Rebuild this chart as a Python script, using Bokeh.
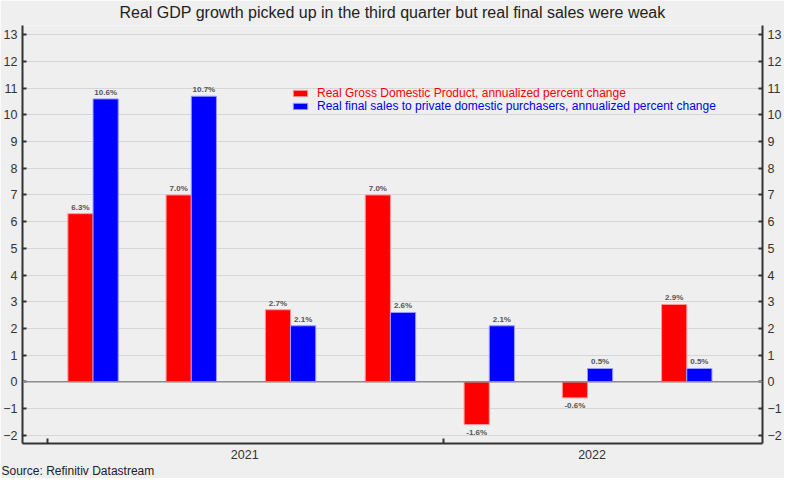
import pandas as pd
from bokeh.plotting import figure
from bokeh.models import (ColumnDataSource, Range1d, LinearAxis, FixedTicker, Span,
                          Legend, LegendItem, Title)
from bokeh.core.properties import value
from bokeh.embed import file_html
from bokeh.resources import INLINE

# ---------------- data ----------------
title_text = "Real GDP growth picked up in the third quarter but real final sales were weak"
source_text = "Source: Refinitiv Datastream"
quarters = ["2021Q1", "2021Q2", "2021Q3", "2021Q4", "2022Q1", "2022Q2", "2022Q3"]
gdp = [6.3, 7.0, 2.7, 7.0, -1.6, -0.6, 2.9]
final_sales = [10.6, 10.7, 2.1, 2.6, 2.1, 0.5, 0.5]
gdp_name = "Real Gross Domestic Product, annualized percent change"
sales_name = "Real final sales to private domestic purchasers, annualized percent change"
years = ["2021", "2022"]
y_ticks = list(range(-2, 14))

# ---------------- positions (days since start of first year) ----------------
origin = pd.Timestamp(years[0] + "-01-01")
periods = [pd.Period(q, freq="Q") for q in quarters]
starts = [(p.start_time - origin).days for p in periods]
lengths = [(p.end_time.normalize() - p.start_time).days + 1 for p in periods]
centers = [s + 0.47 * L for s, L in zip(starts, lengths)]
half = 11.6
bar_w = 23.2
red_x = [c - half for c in centers]
blue_x = [c + half for c in centers]

year_starts = [(pd.Timestamp(y + "-01-01") - origin).days for y in years]
data_end = starts[-1] + lengths[-1]
year_ends = [min((pd.Timestamp(str(int(y) + 1) + "-01-01") - origin).days, data_end) for y in years]
year_mid = [round((a + b) / 2) for a, b in zip(year_starts, year_ends)]

BG = "#efefef"
FONT = "Liberation Sans"
NARROW = "'Liberation Sans Narrow', 'Liberation Sans', Arial"

X0, X1 = -22.7, 659
Y0, Y1 = -2.31, 13.35

p = figure(width=784, height=478,
           x_range=Range1d(X0, X1), y_range=Range1d(Y0, Y1),
           output_backend="svg", toolbar_location=None,
           background_fill_color=BG, border_fill_color=BG,
           min_border_left=21, min_border_right=21, min_border_top=25, min_border_bottom=35)
p.outline_line_color = None

# title
p.title.text = title_text
p.title.align = "center"
p.title.vertical_align = "top"
p.title.text_font = FONT
p.title.text_font_size = "16px"
p.title.text_font_style = "normal"
p.title.text_color = "#222222"
p.title.standoff = 6

# grid
p.xgrid.visible = False
p.ygrid.ticker = FixedTicker(ticks=y_ticks)
p.ygrid.grid_line_color = "#d6d6d6"
p.ygrid.grid_line_width = 1

# bars
src_r = ColumnDataSource(dict(x=red_x, top=gdp))
src_b = ColumnDataSource(dict(x=blue_x, top=final_sales))
r_red = p.vbar(x="x", top="top", bottom=0, width=bar_w, source=src_r,
               fill_color="#ff0000", line_color="#ff9a9a", line_width=1)
r_blue = p.vbar(x="x", top="top", bottom=0, width=bar_w, source=src_b,
                fill_color="#0000ff", line_color="#9a9aff", line_width=1)

p.add_layout(Span(location=0, dimension="width", line_color="#8c8c8c", line_width=1.5))

# value labels
xs = red_x + blue_x
vals = gdp + final_sales
pos = dict(x=[x for x, v in zip(xs, vals) if v >= 0], y=[v for v in vals if v >= 0],
           t=[f"{v:.1f}%" for v in vals if v >= 0])
neg = dict(x=[x for x, v in zip(xs, vals) if v < 0], y=[v for v in vals if v < 0],
           t=[f"{v:.1f}%" for v in vals if v < 0])
p.text(x="x", y="y", text="t", source=ColumnDataSource(pos), text_align="center",
       text_baseline="bottom", y_offset=-2, text_font=value(NARROW),
       text_font_size="8px", text_font_style="bold", text_color="#555555")
p.text(x="x", y="y", text="t", source=ColumnDataSource(neg), text_align="center",
       text_baseline="top", y_offset=3, text_font=value(NARROW),
       text_font_size="8px", text_font_style="bold", text_color="#555555")

# axes
def style_y(ax):
    ax.ticker = FixedTicker(ticks=y_ticks)
    ax.major_tick_in = 4
    ax.major_tick_out = 0
    ax.minor_tick_in = 0
    ax.minor_tick_out = 0
    ax.minor_tick_line_color = None
    ax.major_tick_line_color = "#333333"
    ax.major_tick_line_width = 2
    ax.axis_line_color = "#333333"
    ax.axis_line_width = 2
    ax.major_label_text_font = FONT
    ax.major_label_text_font_size = "12.5px"
    ax.major_label_text_color = "#333333"
    ax.major_label_standoff = 5

style_y(p.yaxis[0])
right = LinearAxis()
style_y(right)
p.add_layout(right, "right")

xa = p.xaxis[0]
xa.ticker = FixedTicker(ticks=year_mid, minor_ticks=year_starts)
xa.major_label_overrides = {m: y for m, y in zip(year_mid, years)}
xa.major_tick_line_color = None
xa.major_tick_in = 0
xa.major_tick_out = 0
xa.minor_tick_in = 5
xa.minor_tick_out = 0
xa.minor_tick_line_color = "#333333"
xa.minor_tick_line_width = 2
xa.axis_line_color = "#333333"
xa.axis_line_width = 2
xa.major_label_text_font = FONT
xa.major_label_text_font_size = "12.5px"
xa.major_label_text_color = "#333333"
xa.major_label_standoff = 6

# legends (one per series so each label has its own colour)
def make_legend(name, rend, color, loc):
    lg = Legend(items=[LegendItem(label=name, renderers=[rend])], location=loc,
                glyph_width=18, glyph_height=8, label_height=13, label_standoff=8,
                padding=0, margin=0, spacing=0, border_line_color=None,
                background_fill_alpha=0, label_text_font=FONT,
                label_text_font_size="12px", label_text_color=color)
    p.add_layout(lg, "center")

make_legend(gdp_name, r_red, "#ff0000", (269, 343))
make_legend(sales_name, r_blue, "#0000ff", (269, 330))

# source note
p.add_layout(Title(text=source_text, align="left", offset=-21, text_font=NARROW,
                   text_font_size="12px", text_font_style="normal",
                   text_color="#222222", standoff=0), "below")

html = file_html(p, INLINE)
html = html.replace("<body>", '<body style="background-color:%s;">' % BG, 1)
open("out.html", "w").write(html)
